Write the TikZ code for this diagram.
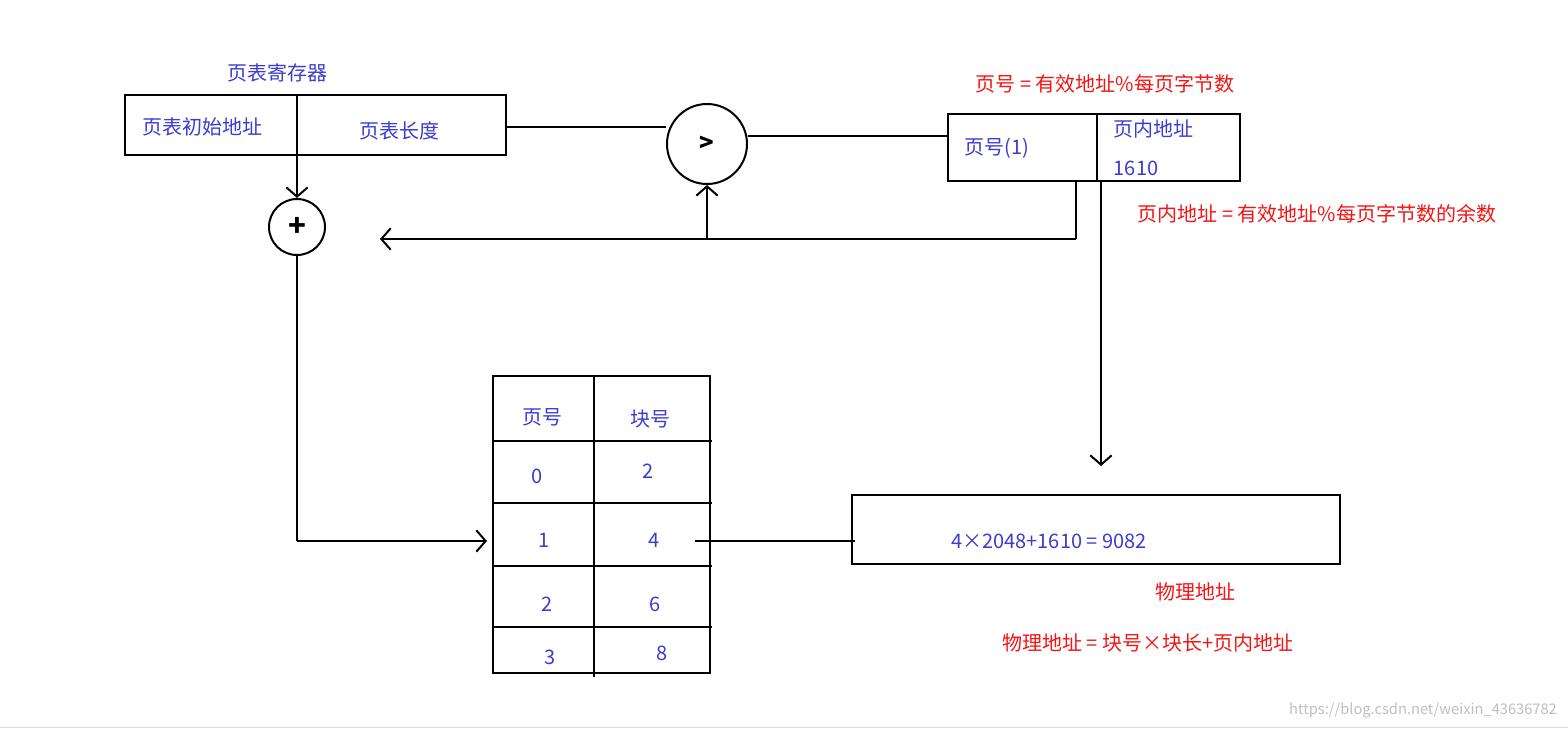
\documentclass[tikz,border=0pt]{standalone}
\usepackage{fontspec}
\setmainfont{Noto Sans CJK SC}
\usetikzlibrary{arrows.meta}
\definecolor{bl}{RGB}{60,60,210}
\definecolor{rd}{RGB}{245,20,20}
\begin{document}
\begin{tikzpicture}[x=0.75pt,y=-0.75pt,
  ln/.style={line width=1.5pt},
  arr/.style={ln,-{Straight Barb[length=7pt,width=16pt,line width=1.5pt]}},
  bt/.style={text=bl,font=\fontsize{15}{18}\selectfont,inner sep=0},
  rt/.style={text=rd,font=\fontsize{15}{18}\selectfont,inner sep=0}]
\useasboundingbox (0,0) rectangle (1568,729);
\fill[white] (0,0) rectangle (1568,729);
\draw[gray!30] (0,727) -- (1568,727);
% page table register
\node[bt] (t1) at (277,73) {页表寄存器};
\draw[ln] (125,95) rectangle (506,155);
\draw[ln] (297,95) -- (297,155);
\node[bt] (r1) at (202,127) {页表初始地址};
\node[bt] (r2) at (399,131) {页表长度};
% compare
\node[draw,ln,circle,minimum size=80pt*0.75,inner sep=0,font=\bfseries\fontsize{18}{20}\selectfont] (cmp) at (707,144) {>};
\node[draw,ln,circle,minimum size=56pt*0.75,inner sep=0,font=\bfseries\fontsize{22}{24}\selectfont] (plus) at (297,227) {+};
\coordinate (rr) at (506,127);
\draw[ln] (rr) -- (cmp.west |- rr);
% logical address
\draw[ln] (948,114) rectangle (1240,181);
\draw[ln] (1097,114) -- (1097,181);
\coordinate (la) at (948,136);
\draw[ln] (cmp.east |- la) -- (la);
\node[bt] (pn) at (997,148) {页号(1)};
\node[bt] (po) at (1153,129) {页内地址};
\node[bt] (pv) at (1136,168) {1610};
\node[rt] (e1) at (1105,84) {页号 = 有效地址\%每页字节数};
\node[rt] (e2) at (1317,214) {页内地址 = 有效地址\%每页字节数的余数};
% feedback
\coordinate (f0) at (1076,181);
\coordinate (f1) at (1076,239);
\coordinate (f2) at (380,239);
\coordinate (f3) at (707,239);
\draw[ln] (f0) -- (f1);
\draw[arr] (f1) -- (f2);
\draw[arr] (f3) -- (cmp.south);
\coordinate (d0) at (297,155);
\draw[arr] (d0) -- (plus.north);
\coordinate (g1) at (297,541);
\coordinate (g2) at (487,541);
\draw[ln] (plus.south) -- (g1);
\draw[arr] (g1) -- (g2);
% table
\draw[ln] (493,376) rectangle (710,673);
\draw[ln] (594,376) -- (594,677);
\foreach \y in {441,503,566,627} \draw[ln] (493,\y) -- (712,\y);
\node[bt] (h1) at (542,417) {页号};
\node[bt] (h2) at (650,419) {块号};
\node[bt] (a0) at (537,476) {0};
\node[bt] (b0) at (648,471) {2};
\node[bt] (a1) at (544,540) {1};
\node[bt] (b1) at (654,540) {4};
\node[bt] (a2) at (547,604) {2};
\node[bt] (b2) at (655,604) {6};
\node[bt] (a3) at (550,657) {3};
\node[bt] (b3) at (662,653) {8};
\coordinate (p1) at (695,541);
\coordinate (p2) at (855,541);
\draw[ln] (p1) -- (p2);
% physical
\draw[ln] (852,495) rectangle (1340,564);
\node[bt] (phv) at (1049,541) {4×2048+1610 = 9082};
\coordinate (o1) at (1101,181);
\coordinate (o2) at (1101,466);
\draw[arr] (o1) -- (o2);
\node[rt] (ph1) at (1195,592) {物理地址};
\node[rt] (ph2) at (1148,643) {物理地址 = 块号×块长+页内地址};
\node[text=gray!50,font=\fontsize{11}{13}\selectfont,inner sep=0] (wm) at (1423,710) {https://blog.csdn.net/weixin\_43636782};
\end{tikzpicture}
\end{document}
